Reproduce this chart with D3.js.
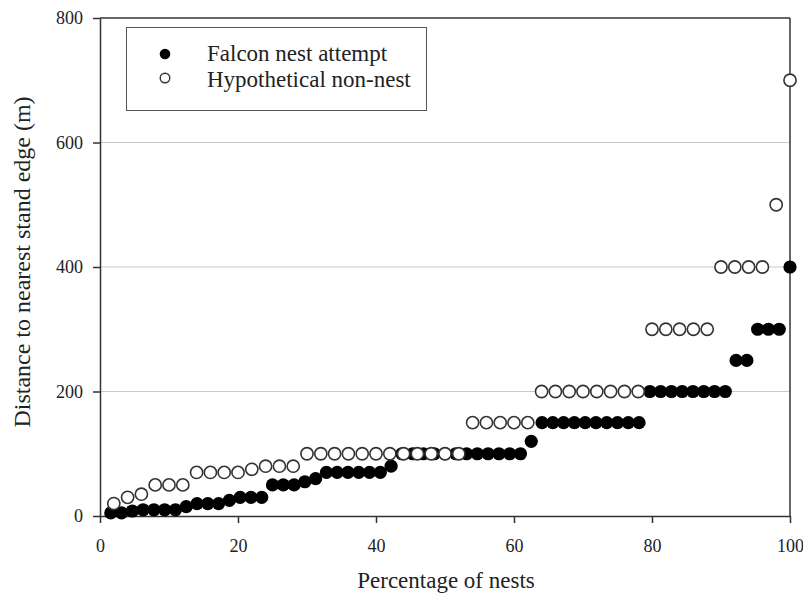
<!DOCTYPE html>
<html>
<head>
<meta charset="utf-8">
<script src="https://cdn.jsdelivr.net/npm/d3@7"></script>
<style>
  html, body { margin: 0; padding: 0; background: #fff; }
  svg { display: block; font-family: "Liberation Serif", "Times New Roman", serif; }
</style>
</head>
<body>
<svg id="chart" width="803" height="599"></svg>
<script>
// Distance (m) to nearest stand edge, sorted ascending; each point sits at its cumulative percentage
const falconDistances = [
  5, 5, 8, 10, 10, 10, 10, 15, 20, 20, 20, 25, 30, 30, 30, 50,
  50, 50, 55, 60, 70, 70, 70, 70, 70, 70, 80, 100, 100, 100, 100, 100,
  100, 100, 100, 100, 100, 100, 100, 120, 150, 150, 150, 150, 150, 150, 150, 150,
  150, 150, 200, 200, 200, 200, 200, 200, 200, 200, 250, 250, 300, 300, 300, 400
];
const hypotheticalDistances = [
  20, 30, 35, 50, 50, 50, 70, 70, 70, 70, 75, 80, 80, 80, 100, 100, 100,
  100, 100, 100, 100, 100, 100, 100, 100, 100, 150, 150, 150, 150, 150, 200,
  200, 200, 200, 200, 200, 200, 200, 300, 300, 300, 300, 300, 400, 400, 400,
  400, 500, 700
];
const xTicks = [0, 20, 40, 60, 80, 100];
const yTicks = [0, 200, 400, 600, 800];
const gridValues = [200, 400, 600];
const seriesNames = ["Falcon nest attempt", "Hypothetical non-nest"];

const svg = d3.select("#chart");
const plotLeft = 100, plotRight = 790, plotTop = 18, plotBottom = 516;

const x = d3.scaleLinear().domain([0, 100]).range([plotLeft, plotRight]);
const y = d3.scaleLinear().domain([0, 800]).range([plotBottom, plotTop]);

const toPoints = arr => arr.map((d, i) => ({ pct: (i + 1) / arr.length * 100, dist: d }));
const falcon = toPoints(falconDistances);
const hypo = toPoints(hypotheticalDistances);

// horizontal reference lines
svg.append("g").selectAll("line").data(gridValues).join("line")
  .attr("x1", plotLeft).attr("x2", plotRight)
  .attr("y1", d => y(d)).attr("y2", d => y(d))
  .attr("stroke", "#c9c9c9").attr("stroke-width", 1);

// top and right frame
svg.append("line").attr("x1", plotLeft).attr("x2", plotRight).attr("y1", plotTop).attr("y2", plotTop)
  .attr("stroke", "#333").attr("stroke-width", 1.5);
svg.append("line").attr("x1", plotRight).attr("x2", plotRight).attr("y1", plotTop).attr("y2", plotBottom)
  .attr("stroke", "#333").attr("stroke-width", 1.5);

// axes
const xAxis = svg.append("g").attr("transform", `translate(0,${plotBottom})`)
  .call(d3.axisBottom(x).tickValues(xTicks).tickSize(7).tickSizeOuter(0).tickPadding(16));
const yAxis = svg.append("g").attr("transform", `translate(${plotLeft},0)`)
  .call(d3.axisLeft(y).tickValues(yTicks).tickSize(7).tickSizeOuter(0).tickPadding(10));
[xAxis, yAxis].forEach(g => {
  g.select(".domain").attr("stroke", "#333").attr("stroke-width", 1.5);
  g.selectAll(".tick line").attr("stroke", "#333").attr("stroke-width", 1.5);
  g.selectAll(".tick text").attr("fill", "#222")
    .style("font-family", "'Liberation Serif', serif").style("font-size", "18px");
});

// points: filled first, open (white-filled) drawn over them
svg.append("g").selectAll("circle").data(falcon).join("circle")
  .attr("cx", d => x(d.pct)).attr("cy", d => y(d.dist)).attr("r", 6.6)
  .attr("fill", "#000");
svg.append("g").selectAll("circle").data(hypo).join("circle")
  .attr("cx", d => x(d.pct)).attr("cy", d => y(d.dist)).attr("r", 6.1)
  .attr("fill", "#fff").attr("stroke", "#333").attr("stroke-width", 1.6);

// axis titles
svg.append("text").attr("x", 446).attr("y", 588).attr("text-anchor", "middle")
  .attr("fill", "#222").style("font-size", "23px").text("Percentage of nests");
svg.append("text").attr("transform", "translate(30,262) rotate(-90)")
  .attr("text-anchor", "middle").attr("fill", "#222").style("font-size", "24px")
  .text("Distance to nearest stand edge (m)");

// legend
const legend = svg.append("g");
legend.append("rect").attr("x", 126.5).attr("y", 27.5).attr("width", 300).attr("height", 83)
  .attr("fill", "#fff").attr("stroke", "#555").attr("stroke-width", 1);
legend.append("circle").attr("cx", 165).attr("cy", 54).attr("r", 5.3).attr("fill", "#000");
legend.append("circle").attr("cx", 165).attr("cy", 78).attr("r", 4.8)
  .attr("fill", "#fff").attr("stroke", "#333").attr("stroke-width", 1.4);
legend.append("text").attr("x", 207).attr("y", 61).attr("fill", "#222")
  .style("font-size", "23px").text(seriesNames[0]);
legend.append("text").attr("x", 207).attr("y", 87).attr("fill", "#222")
  .style("font-size", "23px").text(seriesNames[1]);
</script>
</body>
</html>
